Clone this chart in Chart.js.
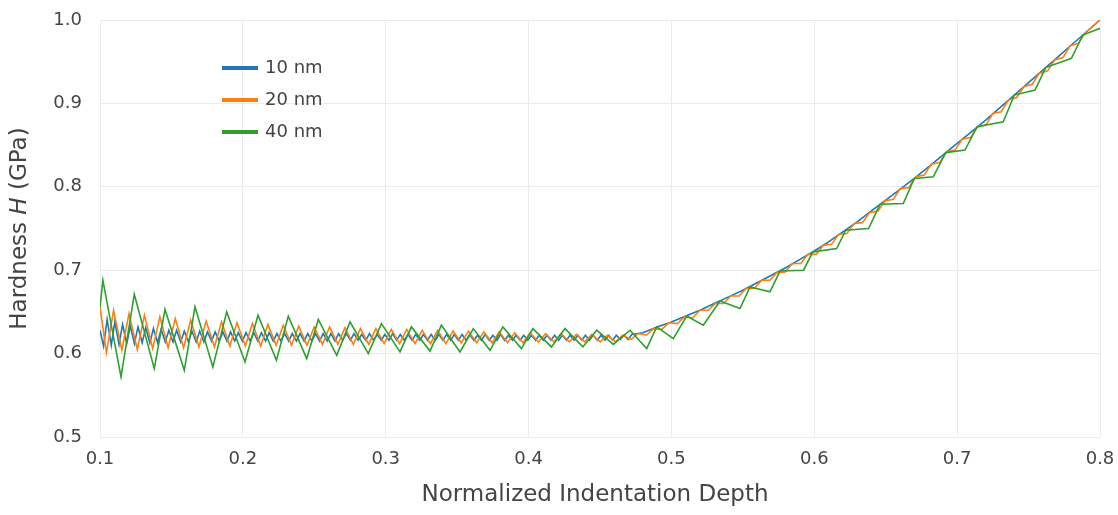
<!DOCTYPE html>
<html>
<head>
<meta charset="utf-8">
<script src="https://cdn.jsdelivr.net/npm/chart.js@4/dist/chart.umd.min.js"></script>
<style>
  html, body { margin: 0; padding: 0; background: #fff; }
  #wrap { width: 1118px; height: 515px; }
</style>
</head>
<body>
<div id="wrap"><canvas id="hardnessChart" width="1118" height="515"></canvas></div>
<script>
const seriesNames = ["10 nm", "20 nm", "40 nm"];
const seriesColors = ["#1f77b4", "#ff7f0e", "#2ca02c"];
const xTicks = [0.1, 0.2, 0.3, 0.4, 0.5, 0.6, 0.7, 0.8];
const yTicks = [0.5, 0.6, 0.7, 0.8, 0.9, 1.0];
const xTitle = "Normalized Indentation Depth";
const yTitleParts = ["Hardness ", "H", " (GPa)"];

// 10 nm
const blueX = [
  0.1000,
  0.1025, 0.1050, 0.1079, 0.1104, 0.1133, 0.1158, 0.1187, 0.1212, 0.1241, 0.1266,
  0.1295, 0.1320, 0.1349, 0.1374, 0.1403, 0.1428, 0.1457, 0.1482, 0.1511, 0.1536,
  0.1565, 0.1590, 0.1619, 0.1644, 0.1673, 0.1698, 0.1727, 0.1752, 0.1781, 0.1806,
  0.1835, 0.1860, 0.1889, 0.1914, 0.1943, 0.1968, 0.1997, 0.2022, 0.2051, 0.2076,
  0.2105, 0.2130, 0.2159, 0.2184, 0.2213, 0.2238, 0.2267, 0.2292, 0.2321, 0.2346,
  0.2375, 0.2400, 0.2429, 0.2454, 0.2483, 0.2508, 0.2537, 0.2562, 0.2591, 0.2616,
  0.2645, 0.2670, 0.2699, 0.2724, 0.2753, 0.2778, 0.2807, 0.2832, 0.2861, 0.2886,
  0.2915, 0.2940, 0.2969, 0.2994, 0.3023, 0.3048, 0.3077, 0.3102, 0.3131, 0.3156,
  0.3185, 0.3210, 0.3239, 0.3264, 0.3293, 0.3318, 0.3347, 0.3372, 0.3401, 0.3426,
  0.3455, 0.3480, 0.3509, 0.3534, 0.3563, 0.3588, 0.3617, 0.3642, 0.3671, 0.3696,
  0.3725, 0.3750, 0.3779, 0.3804, 0.3833, 0.3858, 0.3887, 0.3912, 0.3941, 0.3966,
  0.3995, 0.4020, 0.4049, 0.4074, 0.4103, 0.4128, 0.4157, 0.4182, 0.4211, 0.4236,
  0.4265, 0.4290, 0.4319, 0.4344, 0.4373, 0.4398, 0.4427, 0.4452, 0.4481, 0.4506,
  0.4535, 0.4560, 0.4589, 0.4614, 0.4643, 0.4668, 0.4697, 0.4722,
  0.48, 0.49, 0.50, 0.51, 0.52, 0.53, 0.54, 0.55, 0.56, 0.57, 0.58,
  0.59, 0.60, 0.61, 0.62, 0.63, 0.64, 0.65, 0.66, 0.67, 0.68, 0.69,
  0.70, 0.71, 0.72, 0.73, 0.74, 0.75, 0.76, 0.77, 0.78, 0.79, 0.80,
];
const blueY = [
  0.628,
  0.609, 0.641, 0.610, 0.638, 0.611, 0.635, 0.612, 0.633, 0.612, 0.632,
  0.613, 0.631, 0.613, 0.630, 0.613, 0.629, 0.614, 0.628, 0.614, 0.628,
  0.614, 0.627, 0.614, 0.627, 0.614, 0.627, 0.614, 0.626, 0.615, 0.626,
  0.615, 0.626, 0.615, 0.626, 0.615, 0.625, 0.615, 0.625, 0.615, 0.625,
  0.615, 0.625, 0.615, 0.625, 0.615, 0.624, 0.615, 0.624, 0.615, 0.624,
  0.615, 0.624, 0.615, 0.624, 0.615, 0.624, 0.615, 0.624, 0.615, 0.624,
  0.615, 0.624, 0.616, 0.624, 0.616, 0.624, 0.616, 0.623, 0.616, 0.624,
  0.616, 0.623, 0.616, 0.623, 0.616, 0.624, 0.616, 0.623, 0.616, 0.623,
  0.616, 0.623, 0.616, 0.623, 0.616, 0.623, 0.616, 0.623, 0.616, 0.623,
  0.616, 0.623, 0.616, 0.623, 0.616, 0.623, 0.616, 0.622, 0.616, 0.623,
  0.616, 0.622, 0.616, 0.623, 0.616, 0.622, 0.616, 0.622, 0.616, 0.622,
  0.616, 0.622, 0.616, 0.622, 0.616, 0.622, 0.616, 0.622, 0.616, 0.622,
  0.616, 0.622, 0.616, 0.622, 0.616, 0.622, 0.616, 0.622, 0.616, 0.622,
  0.616, 0.622, 0.616, 0.622, 0.617, 0.622, 0.617, 0.623,
  0.625, 0.632, 0.638, 0.645, 0.652, 0.660, 0.668, 0.676, 0.685, 0.694, 0.703,
  0.713, 0.723, 0.734, 0.746, 0.758, 0.771, 0.784, 0.797, 0.810, 0.824, 0.838,
  0.852, 0.866, 0.880, 0.895, 0.910, 0.925, 0.940, 0.955, 0.970, 0.985, 1.000,
];

// 20 nm
const orangeX = [
  0.1000,
  0.1045, 0.1095, 0.1153, 0.1203, 0.1261, 0.1311, 0.1369, 0.1419, 0.1477, 0.1527,
  0.1585, 0.1635, 0.1693, 0.1743, 0.1801, 0.1851, 0.1909, 0.1959, 0.2017, 0.2067,
  0.2125, 0.2175, 0.2233, 0.2283, 0.2341, 0.2391, 0.2449, 0.2499, 0.2557, 0.2607,
  0.2665, 0.2715, 0.2773, 0.2823, 0.2881, 0.2931, 0.2989, 0.3039, 0.3097, 0.3147,
  0.3205, 0.3255, 0.3313, 0.3363, 0.3421, 0.3471, 0.3529, 0.3579, 0.3637, 0.3687,
  0.3745, 0.3795, 0.3853, 0.3903, 0.3961, 0.4011, 0.4069, 0.4119, 0.4177, 0.4227,
  0.4285, 0.4335, 0.4393, 0.4443, 0.4501, 0.4551, 0.4609, 0.4659, 0.4717, 0.4767,
  0.4825, 0.4875, 0.4933, 0.4983, 0.5041, 0.5091, 0.5149, 0.5199, 0.5257, 0.5307,
  0.5365, 0.5415, 0.5473, 0.5523, 0.5581, 0.5631, 0.5689, 0.5739, 0.5797, 0.5847,
  0.5905, 0.5955, 0.6013, 0.6063, 0.6121, 0.6171, 0.6229, 0.6279, 0.6337, 0.6387,
  0.6445, 0.6495, 0.6553, 0.6603, 0.6661, 0.6711, 0.6769, 0.6819, 0.6877, 0.6927,
  0.6985, 0.7035, 0.7093, 0.7143, 0.7201, 0.7251, 0.7309, 0.7359, 0.7417, 0.7467,
  0.7525, 0.7575, 0.7633, 0.7683, 0.7741, 0.7791, 0.7849, 0.7899,
  0.8000,
];
const orangeY = [
  0.656,
  0.601, 0.652, 0.604, 0.648, 0.605, 0.646, 0.606, 0.644, 0.607, 0.642,
  0.607, 0.640, 0.608, 0.639, 0.608, 0.638, 0.609, 0.637, 0.609, 0.636,
  0.609, 0.635, 0.610, 0.634, 0.610, 0.633, 0.610, 0.632, 0.611, 0.632,
  0.611, 0.631, 0.611, 0.630, 0.611, 0.630, 0.612, 0.629, 0.612, 0.629,
  0.612, 0.628, 0.612, 0.628, 0.612, 0.627, 0.613, 0.627, 0.613, 0.626,
  0.613, 0.626, 0.613, 0.625, 0.613, 0.625, 0.614, 0.624, 0.614, 0.624,
  0.614, 0.623, 0.614, 0.623, 0.614, 0.622, 0.614, 0.622, 0.617, 0.624,
  0.622, 0.630, 0.629, 0.637, 0.636, 0.644, 0.643, 0.652, 0.652, 0.660,
  0.660, 0.669, 0.669, 0.678, 0.678, 0.688, 0.688, 0.697, 0.698, 0.708,
  0.708, 0.719, 0.719, 0.730, 0.731, 0.743, 0.744, 0.756, 0.757, 0.769,
  0.771, 0.783, 0.785, 0.798, 0.799, 0.812, 0.814, 0.827, 0.829, 0.842,
  0.844, 0.857, 0.859, 0.872, 0.874, 0.888, 0.890, 0.904, 0.907, 0.920,
  0.923, 0.936, 0.939, 0.952, 0.955, 0.969, 0.972, 0.985,
  1.000,
];

// 40 nm
const greenX = [
  0.1000, 0.1020, 0.1147, 0.1240, 0.1380, 0.1455, 0.1590, 0.1665, 0.1790, 0.1887,
  0.2015, 0.2106, 0.2235, 0.2318, 0.2447, 0.2528, 0.2657, 0.2750, 0.2878, 0.2970,
  0.3100, 0.3180, 0.3310, 0.3390, 0.3520, 0.3613, 0.3730, 0.3820, 0.3950, 0.4030,
  0.4160, 0.4255, 0.4380, 0.4477, 0.4593, 0.4710, 0.4827, 0.4897, 0.5013, 0.5107,
  0.5223, 0.5340, 0.5480, 0.5550, 0.5690, 0.5760, 0.5925, 0.5990, 0.6157, 0.6220,
  0.6380, 0.6460, 0.6623, 0.6700, 0.6833, 0.6920, 0.7055, 0.7140, 0.7323, 0.7400,
  0.7545, 0.7620, 0.7800, 0.7880, 0.8000,
];
const greenY = [
  0.655, 0.688, 0.572, 0.671, 0.582, 0.653, 0.580, 0.656, 0.584, 0.650,
  0.590, 0.646, 0.592, 0.645, 0.594, 0.641, 0.598, 0.638, 0.600, 0.636,
  0.602, 0.632, 0.603, 0.634, 0.602, 0.630, 0.604, 0.632, 0.606, 0.630,
  0.608, 0.630, 0.608, 0.628, 0.611, 0.628, 0.606, 0.632, 0.618, 0.645,
  0.634, 0.663, 0.654, 0.680, 0.674, 0.699, 0.700, 0.722, 0.726, 0.748,
  0.750, 0.779, 0.780, 0.810, 0.812, 0.841, 0.844, 0.872, 0.878, 0.910,
  0.916, 0.943, 0.954, 0.982, 0.990,
];

const FONT = '"DejaVu Sans", Verdana, sans-serif';
const TEXT_COLOR = "#444";
const GRID_COLOR = "#ebebeb";

function toPoints(xs, ys) {
  return xs.map((x, i) => ({ x, y: ys[i] }));
}

const seriesData = [
  toPoints(blueX, blueY),
  toPoints(orangeX, orangeY),
  toPoints(greenX, greenY),
];

// legend drawn inside the plot, top-left, like the original
const insideLegend = {
  id: "insideLegend",
  afterDraw(chart) {
    const { ctx, chartArea } = chart;
    const x0 = chartArea.left + 122;
    const y0 = chartArea.top + 48;
    ctx.save();
    ctx.font = `18px ${FONT}`;
    ctx.textBaseline = "middle";
    ctx.textAlign = "left";
    seriesNames.forEach((name, i) => {
      const y = y0 + i * 32;
      ctx.strokeStyle = seriesColors[i];
      ctx.lineWidth = 4;
      ctx.beginPath();
      ctx.moveTo(x0, y);
      ctx.lineTo(x0 + 36, y);
      ctx.stroke();
      ctx.fillStyle = TEXT_COLOR;
      ctx.fillText(name, x0 + 43, y);
    });
    ctx.restore();
  },
};

// axis titles (y title needs an italic H)
const axisTitles = {
  id: "axisTitles",
  afterDraw(chart) {
    const { ctx, chartArea } = chart;
    ctx.save();
    ctx.fillStyle = TEXT_COLOR;
    ctx.textBaseline = "middle";

    ctx.font = `23px ${FONT}`;
    ctx.textAlign = "center";
    ctx.fillText(xTitle, (chartArea.left + chartArea.right) / 2 - 5, chartArea.bottom + 58);

    const fonts = [`23px ${FONT}`, `italic 23px ${FONT}`, `23px ${FONT}`];
    const widths = yTitleParts.map((t, i) => {
      ctx.font = fonts[i];
      return ctx.measureText(t).width;
    });
    const total = widths.reduce((a, b) => a + b, 0);
    ctx.translate(chartArea.left - 80, (chartArea.top + chartArea.bottom) / 2);
    ctx.rotate(-Math.PI / 2);
    ctx.textAlign = "left";
    let cx = -total / 2;
    yTitleParts.forEach((t, i) => {
      ctx.font = fonts[i];
      ctx.fillText(t, cx, 0);
      cx += widths[i];
    });
    ctx.restore();
  },
};

const canvas = document.getElementById("hardnessChart");

new Chart(canvas, {
  type: "line",
  data: {
    datasets: seriesNames.map((name, i) => ({
      label: name,
      data: seriesData[i],
      borderColor: seriesColors[i],
      backgroundColor: seriesColors[i],
      borderWidth: 1.6,
      pointRadius: 0,
      tension: 0,
      fill: false,
      order: seriesNames.length - i,
    })),
  },
  options: {
    responsive: false,
    animation: false,
    layout: { padding: { top: 20, right: 18, bottom: 0, left: 0 } },
    plugins: {
      legend: { display: false },
      tooltip: { enabled: false },
    },
    scales: {
      x: {
        type: "linear",
        min: xTicks[0],
        max: xTicks[xTicks.length - 1],
        afterBuildTicks: (scale) => {
          scale.ticks = xTicks.map((v) => ({ value: v }));
        },
        afterFit: (scale) => {
          scale.height = 78;
          scale.paddingLeft = 0;
          scale.paddingRight = 0;
        },
        grid: { color: GRID_COLOR, drawTicks: false },
        border: { display: false },
        ticks: {
          autoSkip: false,
          maxRotation: 0,
          padding: 12,
          color: TEXT_COLOR,
          font: { family: FONT, size: 18 },
          callback: (v) => Number(v).toFixed(1),
        },
      },
      y: {
        type: "linear",
        min: yTicks[0],
        max: yTicks[yTicks.length - 1],
        afterBuildTicks: (scale) => {
          scale.ticks = yTicks.map((v) => ({ value: v }));
        },
        afterFit: (scale) => {
          scale.width = 100;
          scale.paddingTop = 0;
          scale.paddingBottom = 0;
        },
        grid: { color: GRID_COLOR, drawTicks: false },
        border: { display: false },
        ticks: {
          autoSkip: false,
          padding: 18,
          color: TEXT_COLOR,
          font: { family: FONT, size: 18 },
          callback: (v) => Number(v).toFixed(1),
        },
      },
    },
  },
  plugins: [insideLegend, axisTitles],
});
</script>
</body>
</html>
